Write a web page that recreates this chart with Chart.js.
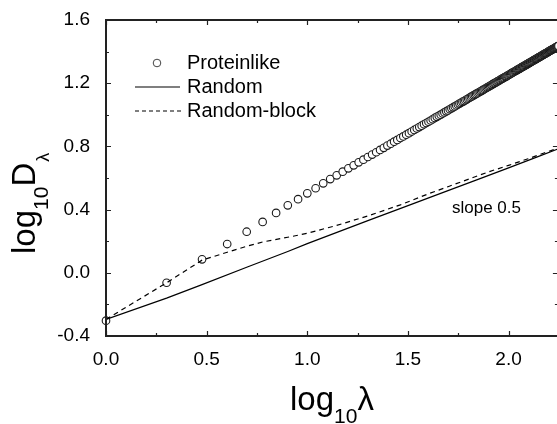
<!DOCTYPE html>
<html><head><meta charset="utf-8">
<script src="https://cdn.jsdelivr.net/npm/chart.js@4.4.1/dist/chart.umd.min.js"></script>
<style>html,body{margin:0;padding:0;overflow:hidden;background:#fff}#wrap{width:564px;height:424px}</style>
</head><body><div id="wrap"><canvas id="c" width="564" height="424"></canvas></div>
<script>
// ---- data (x axis is log10 of lambda, y is log10 D_lambda) ----
const proteinLambda = Array.from({length: 177}, (_, i) => i + 1);
const proteinY = [
 -0.303,-0.063,0.085,0.182,0.260,0.322,0.379,0.427,0.466,0.503,0.535,0.566,0.593,0.617,
 0.640,0.661,0.680,0.699,0.716,0.733,0.748,0.763,0.778,0.791,
 0.805,0.817,0.830,0.841,0.853,0.863,0.874,0.884,0.894,0.904,
 0.913,0.922,0.931,0.940,0.948,0.956,0.964,0.972,0.980,0.987,
 0.994,1.001,1.008,1.015,1.022,1.028,1.035,1.041,1.047,1.053,
 1.059,1.065,1.071,1.076,1.082,1.087,1.092,1.098,1.103,1.108,
 1.113,1.118,1.123,1.128,1.132,1.137,1.141,1.146,1.150,1.155,
 1.159,1.163,1.168,1.172,1.176,1.180,1.184,1.188,1.192,1.196,
 1.200,1.203,1.207,1.211,1.214,1.218,1.222,1.225,1.229,1.232,
 1.235,1.239,1.242,1.245,1.249,1.252,1.255,1.258,1.262,1.265,
 1.268,1.271,1.274,1.277,1.280,1.283,1.286,1.289,1.291,1.294,
 1.297,1.300,1.303,1.305,1.308,1.311,1.313,1.316,1.319,1.321,
 1.324,1.327,1.329,1.332,1.334,1.337,1.339,1.342,1.344,1.346,
 1.349,1.351,1.354,1.356,1.358,1.361,1.363,1.365,1.367,1.370,
 1.372,1.374,1.376,1.379,1.381,1.383,1.385,1.387,1.389,1.391,
 1.393,1.395,1.398,1.400,1.402,1.404,1.406,1.408,1.410,1.412,
 1.414,1.416,1.417,1.419,1.421,1.423,1.425,1.427,1.429,1.431,
 1.433,1.434,1.436
];
const randomLambda = [1,2,3,5,8,10,20,30,50,70,100,140,177];
const randomY = [-0.295,-0.160,-0.075,0.035,0.135,0.185,0.330,0.414,0.520,0.590,0.664,0.735,0.785];
const blockLambda = [1,2,3,4,5,6,8,9,10,14,20,29,40,50,65,80,100,125,150,177];
const blockY = [-0.295,-0.063,0.080,0.130,0.168,0.195,0.225,0.238,0.250,0.300,0.360,0.430,0.500,0.545,0.598,0.640,0.680,0.722,0.758,0.790];
const seriesNames = ['Proteinlike','Random','Random-block'];
const xTickLabels = ['0.0','0.5','1.0','1.5','2.0'];
const yTickLabels = ['-0.4','0.0','0.4','0.8','1.2','1.6'];
const annotationText = 'slope 0.5';

const toPts = (lams, ys) => lams.map((l, i) => ({x: Math.log10(l), y: ys[i]}));
const FONT = '"Liberation Sans", Arial, sans-serif';

function isMult(v, step){ return Math.abs(Math.round(v/step)*step - v) < 1e-6; }
function fmt(v){ if (Math.abs(v) < 1e-9) v = 0; return v.toFixed(1); }

const framePlugin = {
  id: 'frame',
  afterDraw(chart){
    const ctx = chart.ctx, a = chart.chartArea;
    const xs = chart.scales.x, ys = chart.scales.y;
    ctx.save();
    ctx.strokeStyle = '#222';
    // ticks
    ctx.lineWidth = 1.2;
    xs.ticks.forEach(t => {
      const p = Math.round(xs.getPixelForValue(t.value)) + 0.5;
      const len = isMult(t.value, 0.5) ? 5 : 3;
      ctx.beginPath();
      ctx.moveTo(p, a.bottom); ctx.lineTo(p, a.bottom - len);
      ctx.moveTo(p, a.top); ctx.lineTo(p, a.top + len);
      ctx.stroke();
    });
    ys.ticks.forEach(t => {
      const p = Math.round(ys.getPixelForValue(t.value)) + 0.5;
      const len = isMult(t.value + 0.4, 0.4) ? 5 : 3;
      ctx.beginPath();
      ctx.moveTo(a.left, p); ctx.lineTo(a.left + len, p);
      ctx.moveTo(a.right, p); ctx.lineTo(a.right - len - 1, p);
      ctx.stroke();
    });
    // frame
    ctx.lineWidth = 2;
    ctx.strokeRect(a.left, a.top, a.right - a.left, a.bottom - a.top);

    // legend
    ctx.textBaseline = 'middle';
    ctx.textAlign = 'left';
    ctx.font = '20px ' + FONT;
    ctx.beginPath();
    ctx.lineWidth = 1;
    ctx.strokeStyle = '#444';
    ctx.fillStyle = '#fff';
    ctx.arc(157, 63, 3.8, 0, Math.PI*2);
    ctx.fill(); ctx.stroke();
    ctx.fillStyle = '#000';
    ctx.fillText(seriesNames[0], 187, 63);
    ctx.strokeStyle = '#000';
    ctx.lineWidth = 1.2;
    ctx.beginPath(); ctx.moveTo(135, 87); ctx.lineTo(180, 87); ctx.stroke();
    ctx.fillText(seriesNames[1], 187, 87);
    ctx.setLineDash([4, 3]);
    ctx.beginPath(); ctx.moveTo(135, 111); ctx.lineTo(181, 111); ctx.stroke();
    ctx.setLineDash([]);
    ctx.fillText(seriesNames[2], 187, 111);

    // annotation
    ctx.font = '17px ' + FONT;
    ctx.fillText(annotationText, 452, 208);

    // x title: log10 λ
    ctx.textBaseline = 'alphabetic';
    let x = 290;
    ctx.font = '33px ' + FONT; ctx.fillText('log', x, 410); x += ctx.measureText('log').width;
    ctx.font = '21px ' + FONT; ctx.fillText('10', x, 423); x += ctx.measureText('10').width;
    ctx.font = '33px ' + FONT; ctx.fillText('λ', x, 410);

    // y title: log10 D λ (rotated)
    ctx.save();
    ctx.translate(35, 254);
    ctx.rotate(-Math.PI/2);
    x = 0;
    ctx.font = '33px ' + FONT; ctx.fillText('log', x, 0); x += ctx.measureText('log').width;
    ctx.font = '21px ' + FONT; ctx.fillText('10', x, 13); x += ctx.measureText('10').width;
    ctx.font = '33px ' + FONT; ctx.fillText('D', x, 0); x += ctx.measureText('D').width + 1;
    ctx.font = '18px ' + FONT; ctx.fillText('λ', x, 14);
    ctx.restore();
    ctx.restore();
  }
};

new Chart(document.getElementById('c'), {
  type: 'scatter',
  data: {
    datasets: [
      {
        label: seriesNames[1], data: toPts(randomLambda, randomY), showLine: true,
        borderColor: '#000', borderWidth: 1.2, pointRadius: 0, order: 1
      },
      {
        label: seriesNames[2], data: toPts(blockLambda, blockY), showLine: true,
        borderColor: '#000', borderWidth: 1.2, borderDash: [5, 4], pointRadius: 0, order: 1
      },
      {
        label: seriesNames[0], data: toPts(proteinLambda, proteinY), showLine: false,
        pointStyle: 'circle', pointRadius: 3.8, borderWidth: 1.1, borderColor: '#1a1a1a',
        backgroundColor: '#fff', clip: false, order: 2
      }
    ]
  },
  options: {
    responsive: false, animation: false, devicePixelRatio: 1,
    layout: { padding: { left: 0, top: 20, right: 4, bottom: 0 } },
    plugins: { legend: { display: false }, tooltip: { enabled: false } },
    scales: {
      x: {
        type: 'linear', min: 0, max: 2.25,
        grid: { display: false }, border: { display: false },
        ticks: {
          stepSize: 0.25, padding: 4, color: '#000', font: { family: FONT, size: 19 },
          maxRotation: 0, autoSkip: false,
          callback: v => { const s = fmt(v); return isMult(v, 0.5) && xTickLabels.includes(s) ? s : ''; }
        },
        afterFit: s => { s.height = 88; }
      },
      y: {
        type: 'linear', min: -0.4, max: 1.6,
        grid: { display: false }, border: { display: false },
        ticks: {
          stepSize: 0.2, padding: 8, color: '#000', font: { family: FONT, size: 19 },
          autoSkip: false,
          callback: v => { const s = fmt(v); return isMult(v + 0.4, 0.4) && yTickLabels.includes(s) ? s : ''; }
        },
        afterFit: s => { s.width = 106; }
      }
    }
  },
  plugins: [framePlugin]
});
</script></body></html>
